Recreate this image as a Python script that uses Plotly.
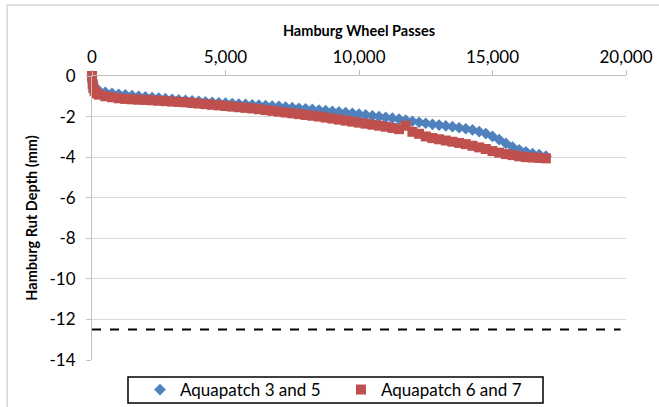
import plotly.graph_objects as go

passes = [0, 25, 50, 100, 175, 250, 500, 750, 1000, 1250, 1500, 1750, 2000, 2250, 2500, 2750,
          3000, 3250, 3500, 3750, 4000, 4250, 4500, 4750, 5000, 5250, 5500, 5750, 6000, 6250,
          6500, 6750, 7000, 7250, 7500, 7750, 8000, 8250, 8500, 8750, 9000, 9250, 9500, 9750,
          10000, 10250, 10500, 10750, 11000, 11250, 11500, 11750, 12000, 12250, 12500, 12750,
          13000, 13250, 13500, 13750, 14000, 14250, 14500, 14750, 15000, 15250, 15500, 15750,
          16000, 16250, 16500, 16750, 17000]

aqua_3_5 = [0, -0.3, -0.45, -0.55, -0.65, -0.72, -0.8, -0.85, -0.9, -0.93, -0.97, -1.0, -1.03,
            -1.06, -1.09, -1.12, -1.15, -1.18, -1.2, -1.23, -1.25, -1.28, -1.3, -1.32, -1.34,
            -1.36, -1.38, -1.4, -1.42, -1.44, -1.46, -1.48, -1.5, -1.53, -1.56, -1.59, -1.62,
            -1.65, -1.68, -1.71, -1.74, -1.77, -1.8, -1.84, -1.88, -1.92, -1.96, -2.0, -2.04,
            -2.08, -2.13, -2.18, -2.23, -2.28, -2.33, -2.38, -2.42, -2.46, -2.5, -2.55, -2.6,
            -2.66, -2.74, -2.84, -2.98, -3.14, -3.32, -3.5, -3.64, -3.74, -3.82, -3.88, -3.95]

aqua_6_7 = [0, -0.4, -0.6, -0.75, -0.85, -0.92, -1.0, -1.05, -1.1, -1.13, -1.15, -1.17, -1.18,
            -1.2, -1.22, -1.24, -1.26, -1.28, -1.3, -1.33, -1.36, -1.39, -1.42, -1.45, -1.48,
            -1.51, -1.54, -1.57, -1.6, -1.64, -1.68, -1.72, -1.76, -1.8, -1.84, -1.88, -1.92,
            -1.96, -2.0, -2.05, -2.1, -2.15, -2.2, -2.25, -2.3, -2.35, -2.4, -2.45, -2.5, -2.56,
            -2.62, -2.45, -2.75, -2.85, -2.98, -3.06, -3.12, -3.18, -3.24, -3.3, -3.36, -3.44,
            -3.52, -3.6, -3.7, -3.78, -3.85, -3.9, -3.96, -4.0, -4.02, -4.04, -4.06]

limit_passes = [0, 19800]
limit_depth = [-12.5, -12.5]

x_ticks = [0, 5000, 10000, 15000, 20000]
x_labels = ["0", "5,000", "10,000", "15,000", "20,000"]
y_ticks = [0, -2, -4, -6, -8, -10, -12, -14]
y_labels = ["0", "-2", "-4", "-6", "-8", "-10", "-12", "-14"]

FONT = "Lato, 'Open Sans', sans-serif"

fig = go.Figure()
fig.add_trace(go.Scatter(
    x=limit_passes, y=limit_depth, mode="lines", showlegend=False,
    line=dict(color="black", width=2, dash="dash"), hoverinfo="skip"))
fig.add_trace(go.Scatter(
    x=passes, y=aqua_3_5, mode="markers", name="Aquapatch 3 and 5",
    marker=dict(symbol="diamond", size=9, color="#4F81BD")))
fig.add_trace(go.Scatter(
    x=passes, y=aqua_6_7, mode="markers", name="Aquapatch 6 and 7",
    marker=dict(symbol="square", size=10, color="#C0504D")))

fig.update_layout(
    width=659, height=407,
    margin=dict(l=92, r=33, t=76, b=47, autoexpand=False),
    paper_bgcolor="white", plot_bgcolor="white",
    font=dict(family=FONT, size=17, color="black"),
    xaxis=dict(
        side="top", range=[0, 20000], tickvals=x_ticks, ticktext=x_labels, automargin=False,
        showgrid=False, zeroline=False, showline=True, linecolor="#bfbfbf", linewidth=1,
        ticks="outside", ticklen=5, tickcolor="#bfbfbf", tickfont=dict(size=17),
        title=dict(text="<b>Hamburg Wheel Passes</b>", font=dict(size=14.5), standoff=6)),
    yaxis=dict(
        range=[-14, 0], tickvals=y_ticks, ticktext=y_labels, showgrid=True, gridcolor="#d9d9d9",
        gridwidth=1, zeroline=False, showline=True, linecolor="#bfbfbf", linewidth=1,
        automargin=False, ticks="outside", ticklen=5, tickcolor="#bfbfbf",
        tickfont=dict(size=17), ticklabelstandoff=7,
        title=dict(text="<b>Hamburg Rut Depth (mm)</b>", font=dict(size=14.5), standoff=8)),
    legend=dict(
        orientation="h", x=0.0899, xanchor="left", yref="container", y=0.0418,
        yanchor="middle", borderwidth=0, bgcolor="rgba(0,0,0,0)", font=dict(size=17),
        itemsizing="trace", traceorder="normal", entrywidth=156, entrywidthmode="pixels"),
    shapes=[
        dict(type="rect", xref="paper", yref="paper", x0=-0.159, x1=1.067, y0=-0.176, y1=1.25,
             line=dict(color="#bfbfbf", width=1), layer="below"),
        dict(type="rect", xref="paper", yref="paper", x0=0.0674, x1=0.8446, y0=-0.1514, y1=-0.0599,
             line=dict(color="black", width=1.5), fillcolor="rgba(0,0,0,0)", layer="above"),
    ],
)
fig.update_traces(cliponaxis=False)

fig.write_html("out.html", config={"displayModeBar": False},
               post_script="document.body.style.margin='0';document.body.style.overflow='hidden';")
